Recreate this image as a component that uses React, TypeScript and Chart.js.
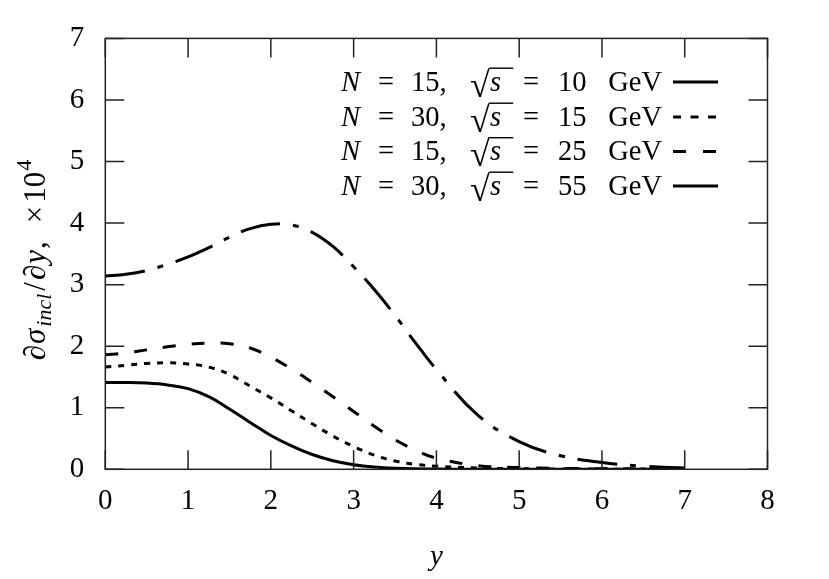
import React, { useEffect, useRef } from "react";
import { Chart, registerables } from "chart.js";

Chart.register(...registerables);

// rapidity values y
const rapidity = [0, 0.25, 0.5, 0.75, 1, 1.25, 1.5, 1.75, 2, 2.25, 2.5, 2.75, 3, 3.25, 3.5, 3.75, 4, 4.5, 5, 5.5, 6, 6.5, 7];
// dσ/dy ×10^4 for each configuration
const sigmaN15s10 = [1.41, 1.41, 1.4, 1.37, 1.31, 1.18, 0.98, 0.76, 0.55, 0.38, 0.24, 0.14, 0.075, 0.037, 0.017, 0.008, 0.004, 0.002, 0.001, 0.001, 0.001, 0.001, 0.001];
const sigmaN30s15 = [1.66, 1.69, 1.72, 1.73, 1.71, 1.66, 1.54, 1.35, 1.16, 0.95, 0.74, 0.54, 0.37, 0.23, 0.135, 0.08, 0.05, 0.02, 0.01, 0.005, 0.003, 0.003, 0.003];
const sigmaN15s25 = [1.86, 1.89, 1.94, 1.99, 2.03, 2.05, 2.04, 1.97, 1.82, 1.63, 1.41, 1.18, 0.94, 0.7, 0.48, 0.31, 0.18, 0.06, 0.03, 0.015, 0.01, 0.005, 0.003];
const sigmaN30s55 = [3.14, 3.17, 3.23, 3.33, 3.45, 3.6, 3.77, 3.91, 3.98, 3.97, 3.85, 3.62, 3.29, 2.92, 2.5, 2.05, 1.62, 0.88, 0.45, 0.22, 0.11, 0.05, 0.02];

const xTickValues = [0, 1, 2, 3, 4, 5, 6, 7, 8];
const yTickValues = [0, 1, 2, 3, 4, 5, 6, 7];

const legendN = ["15", "30", "15", "30"];
const legendSqrtS = ["10", "15", "25", "55"];

const FONT = "'Liberation Serif', 'DejaVu Serif', serif";

const seriesList = [sigmaN15s10, sigmaN30s15, sigmaN15s25, sigmaN30s55];
const dashes: number[][] = [[], [6, 7], [13, 16], [40, 13, 6, 13]];
const legendDashes: number[][] = [[], [8, 9.5], [13, 17], []];

function drawLegend(ctx: CanvasRenderingContext2D, chart: any) {
  const R = chart.chartArea.right - 105.5; // right edge of legend text
  const rowY = [82, 117, 151.5, 186];
  const lineX0 = R + 11;
  const lineX1 = R + 56;
  const fs = 28.5;
  ctx.save();
  ctx.fillStyle = "#000";
  ctx.textBaseline = "alphabetic";
  ctx.textAlign = "left";
  for (let i = 0; i < 4; i++) {
    const base = rowY[i] + 8.5;
    ctx.font = `italic ${fs}px ${FONT}`;
    ctx.fillText("N", R - 321, base);
    ctx.font = `${fs}px ${FONT}`;
    ctx.fillText("=", R - 284, base);
    ctx.fillText(legendN[i] + ",", R - 251, base);
    // radical
    ctx.font = `36px ${FONT}`;
    const m = ctx.measureText("\u221A");
    const rx = R - 192;
    const rBase = base + 7 - m.actualBoundingBoxDescent;
    ctx.fillText("\u221A", rx, rBase);
    const topY = rBase - m.actualBoundingBoxAscent;
    const rRight = rx + m.actualBoundingBoxRight;
    ctx.font = `italic ${fs}px ${FONT}`;
    const sx = R - 172;
    ctx.fillText("s", sx, base);
    ctx.fillRect(rRight - 0.8, topY, R - 148 - rRight, 1.4);
    ctx.font = `${fs}px ${FONT}`;
    ctx.fillText("=", R - 139, base);
    ctx.fillText(legendSqrtS[i], R - 104, base);
    ctx.textAlign = "right";
    ctx.fillText("GeV", R, base);
    ctx.textAlign = "left";
    // sample line
    ctx.save();
    ctx.strokeStyle = "#000";
    ctx.lineWidth = 3;
    ctx.setLineDash(legendDashes[i]);
    ctx.beginPath();
    ctx.moveTo(lineX0, rowY[i]);
    ctx.lineTo(lineX1, rowY[i]);
    ctx.stroke();
    ctx.restore();
  }
  ctx.restore();
}

function drawAxisTitles(ctx: CanvasRenderingContext2D, chart: any) {
  const area = chart.chartArea;
  ctx.save();
  ctx.fillStyle = "#000";
  ctx.textBaseline = "alphabetic";
  // x title
  ctx.font = `italic 29px ${FONT}`;
  ctx.textAlign = "center";
  ctx.fillText("y", (area.left + area.right) / 2, 565);
  // y title, rotated
  ctx.textAlign = "left";
  const pieces: { t: string; f: string; dy: number; gap?: number }[] = [
    { t: "\u2202", f: `italic 31px ${FONT}`, dy: 0 },
    { t: "\u03C3", f: `italic 31px ${FONT}`, dy: 0, gap: 1 },
    { t: "incl", f: `italic 22px ${FONT}`, dy: 6, gap: 2 },
    { t: "/", f: `31px ${FONT}`, dy: 0, gap: 3 },
    { t: "\u2202", f: `italic 31px ${FONT}`, dy: 0, gap: 2 },
    { t: "y", f: `italic 31px ${FONT}`, dy: 0, gap: 1 },
    { t: ",", f: `31px ${FONT}`, dy: 0, gap: 1 },
    { t: "\u00D7", f: `31px ${FONT}`, dy: 0, gap: 18 },
    { t: "10", f: `31px ${FONT}`, dy: 0, gap: 3 },
    { t: "4", f: `22px ${FONT}`, dy: -14, gap: 1 },
  ];
  let total = 0;
  for (const p of pieces) {
    ctx.font = p.f;
    total += (p.gap || 0) + ctx.measureText(p.t).width;
  }
  const centerY = 260;
  ctx.translate(45, centerY + total / 2);
  ctx.rotate(-Math.PI / 2);
  let x = 0;
  for (const p of pieces) {
    ctx.font = p.f;
    x += p.gap || 0;
    ctx.fillText(p.t, x, p.dy);
    x += ctx.measureText(p.t).width;
  }
  ctx.restore();
}

const framePlugin = {
  id: "gnuplotFrame",
  afterDatasetsDraw(chart: any) {
    const ctx: CanvasRenderingContext2D = chart.ctx;
    const area = chart.chartArea;
    const xs = chart.scales.x;
    const ys = chart.scales.y;
    const tl = 19;
    ctx.save();
    ctx.strokeStyle = "#222";
    ctx.lineWidth = 1.5;
    ctx.setLineDash([]);
    ctx.strokeRect(area.left, area.top, area.right - area.left, area.bottom - area.top);
    ctx.beginPath();
    for (const v of xTickValues) {
      const px = xs.getPixelForValue(v);
      ctx.moveTo(px, area.bottom);
      ctx.lineTo(px, area.bottom - tl);
      ctx.moveTo(px, area.top);
      ctx.lineTo(px, area.top + tl);
    }
    for (const v of yTickValues) {
      const py = ys.getPixelForValue(v);
      ctx.moveTo(area.left, py);
      ctx.lineTo(area.left + tl, py);
      ctx.moveTo(area.right, py);
      ctx.lineTo(area.right - tl, py);
    }
    ctx.stroke();
    ctx.restore();
  },
  afterDraw(chart: any) {
    drawLegend(chart.ctx, chart);
    drawAxisTitles(chart.ctx, chart);
  },
};

export default function App() {
  const ref = useRef<HTMLCanvasElement | null>(null);
  useEffect(() => {
    document.body.style.margin = "0";
    const canvas = ref.current;
    if (!canvas) return;
    const chart = new Chart(canvas, {
      type: "line",
      data: {
        datasets: seriesList.map((s, i) => ({
          label: `N=${legendN[i]}, sqrt(s)=${legendSqrtS[i]} GeV`,
          data: rapidity.map((x, j) => ({ x, y: s[j] })),
          borderColor: "#000",
          backgroundColor: "#000",
          borderWidth: 3,
          borderDash: dashes[i],
          pointRadius: 0,
          fill: false,
          tension: 0.4,
        })),
      },
      options: {
        animation: false,
        responsive: false,
        maintainAspectRatio: false,
        layout: { padding: { top: 34.3, right: 61.5, left: 0, bottom: 0 } },
        plugins: {
          legend: { display: false },
          tooltip: { enabled: false },
          title: { display: false },
        },
        scales: {
          x: {
            type: "linear",
            min: 0,
            max: 8,
            afterBuildTicks: (scale: any) => {
              scale.ticks = xTickValues.map((v) => ({ value: v }));
            },
            ticks: {
              font: { family: FONT, size: 29 },
              color: "#000",
              padding: 15,
              maxRotation: 0,
            },
            grid: { display: false, drawTicks: false },
            border: { display: false },
            afterFit: (scale: any) => {
              scale.height = 109.7;
            },
          },
          y: {
            type: "linear",
            min: 0,
            max: 7,
            afterBuildTicks: (scale: any) => {
              scale.ticks = yTickValues.map((v) => ({ value: v }));
            },
            ticks: {
              font: { family: FONT, size: 29 },
              color: "#000",
              padding: 21,
            },
            grid: { display: false, drawTicks: false },
            border: { display: false },
            afterFit: (scale: any) => {
              scale.width = 105.3;
            },
          },
        },
      },
      plugins: [framePlugin],
    });
    return () => chart.destroy();
  }, []);
  return (
    <div style={{ width: 829, height: 579 }}>
      <canvas ref={ref} width={829} height={579} style={{ display: "block" }} />
    </div>
  );
}
